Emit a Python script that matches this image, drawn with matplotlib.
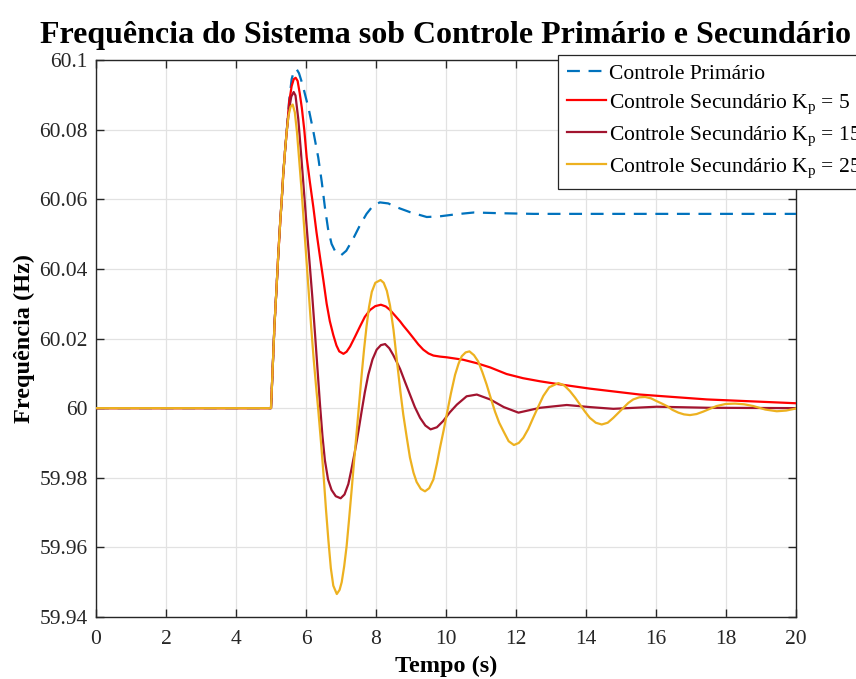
import matplotlib
matplotlib.use('Agg')
import matplotlib.pyplot as plt

plt.rcParams['font.family'] = ['Liberation Serif', 'DejaVu Serif']
plt.rcParams['mathtext.fontset'] = 'custom'
plt.rcParams['mathtext.rm'] = 'Liberation Serif'
plt.rcParams['mathtext.it'] = 'Liberation Serif'

# shared part: steady state and the step at t = 5 s
t_rise = [0.0, 5.0, 5.05, 5.10, 5.16, 5.21, 5.26, 5.31, 5.35, 5.40, 5.45]
f_rise = [60.0, 60.0, 60.012, 60.024, 60.0349, 60.0445, 60.0529, 60.0605, 60.0672, 60.0738, 60.0796]

# primary control only
t_prim = [5.52, 5.59, 5.66, 5.73, 5.80, 5.90, 6.00, 6.07, 6.20, 6.35, 6.45, 6.54, 6.63, 6.73,
          6.85, 7.00, 7.15, 7.35, 7.55, 7.73, 7.92, 8.11, 8.35, 8.59, 8.97, 9.45, 9.83, 10.3,
          10.8, 11.5, 12.5, 14.0, 20.0]
f_prim = [60.0885, 60.0945, 60.0970, 60.0974, 60.0962, 60.0930, 60.0890, 60.0863, 60.0800,
          60.0720, 60.0650, 60.0577, 60.0515, 60.0472, 60.0447, 60.0439, 60.0452, 60.0487,
          60.0527, 60.0558, 60.0582, 60.0591, 60.0588, 60.0577, 60.0563, 60.0549, 60.0551,
          60.0557, 60.0562, 60.0560, 60.0558, 60.0558, 60.0558]

# secondary control, Kp = 5
t_kp5 = [5.52, 5.59, 5.65, 5.705, 5.76, 5.82, 5.88, 5.95, 6.02, 6.11, 6.21, 6.30, 6.40, 6.50,
         6.59, 6.68, 6.78, 6.87, 6.95, 7.07, 7.16, 7.26, 7.40, 7.54, 7.68, 7.83, 7.98, 8.14,
         8.28, 8.40, 8.55, 8.69, 8.78, 8.92, 9.07, 9.21, 9.35, 9.50, 9.64, 9.83, 10.02, 10.49,
         10.88, 11.26, 11.73, 12.2, 12.69, 13.2, 14.11, 15.54, 17.45, 20.0]
f_kp5 = [60.0880, 60.0925, 60.0945, 60.0949, 60.0940, 60.0905, 60.0863, 60.0800, 60.0720,
         60.0650, 60.0577, 60.0505, 60.0434, 60.0365, 60.0300, 60.0250, 60.0210, 60.0180,
         60.0163, 60.0156, 60.0162, 60.0177, 60.0205, 60.0234, 60.0262, 60.0282, 60.0293,
         60.0297, 60.0292, 60.0282, 60.0265, 60.0249, 60.0237, 60.0220, 60.0201, 60.0183,
         60.0168, 60.0157, 60.0151, 60.0148, 60.0146, 60.0139, 60.0129, 60.0117, 60.0098,
         60.0086, 60.0077, 60.0069, 60.0056, 60.0039, 60.0025, 60.0014]

# secondary control, Kp = 15
t_kp15 = [5.52, 5.58, 5.648, 5.70, 5.78, 5.86, 5.94, 6.02, 6.10, 6.18, 6.26, 6.33, 6.40, 6.47,
          6.54, 6.63, 6.73, 6.85, 6.99, 7.10, 7.21, 7.30, 7.40, 7.50, 7.59, 7.68, 7.78, 7.90,
          8.02, 8.14, 8.26, 8.38, 8.49, 8.59, 8.69, 8.83, 8.97, 9.11, 9.26, 9.41, 9.56, 9.74,
          9.92, 10.11, 10.31, 10.59, 10.88, 11.26, 11.65, 12.07, 12.69, 13.45, 14.11, 14.78,
          16.02, 17.5, 20.0]
f_kp15 = [60.0860, 60.0895, 60.0908, 60.0898, 60.0830, 60.0730, 60.0625, 60.0520, 60.0420,
          60.0320, 60.0210, 60.0110, 60.0010, 59.9920, 59.9850, 59.9795, 59.9765, 59.9747,
          59.9741, 59.9752, 59.9782, 59.9825, 59.9877, 59.9935, 59.9991, 60.0045, 60.0096,
          60.0140, 60.0168, 60.0181, 60.0184, 60.0172, 60.0153, 60.0133, 60.0112, 60.0075,
          60.0039, 60.0003, 59.9972, 59.9950, 59.9939, 59.9945, 59.9963, 59.9988, 60.0010,
          60.0034, 60.0039, 60.0025, 60.0003, 59.9987, 60.0001, 60.0009, 60.0003, 59.9998,
          60.0004, 60.0001, 60.0000]

# secondary control, Kp = 25
t_kp25 = [5.50, 5.56, 5.62, 5.68, 5.74, 5.80, 5.87, 5.94, 6.01, 6.08, 6.15, 6.22, 6.29, 6.35,
          6.43, 6.50, 6.57, 6.64, 6.71, 6.78, 6.88, 6.96, 7.02, 7.09, 7.16, 7.23, 7.31, 7.38,
          7.45, 7.52, 7.59, 7.66, 7.73, 7.80, 7.88, 7.98, 8.13, 8.22, 8.31, 8.40, 8.50, 8.61,
          8.70, 8.78, 8.88, 8.97, 9.07, 9.16, 9.28, 9.40, 9.52, 9.64, 9.74, 9.83, 9.93, 10.02,
          10.14, 10.26, 10.36, 10.45, 10.56, 10.67, 10.80, 10.92, 11.04, 11.16, 11.26, 11.40,
          11.52, 11.64, 11.79, 11.94, 12.08, 12.21, 12.35, 12.49, 12.63, 12.78, 12.95, 13.21,
          13.38, 13.54, 13.69, 13.83, 13.97, 14.11, 14.28, 14.45, 14.62, 14.78, 14.93, 15.07,
          15.21, 15.35, 15.52, 15.69, 15.86, 16.02, 16.17, 16.31, 16.47, 16.64, 16.80, 16.97,
          17.16, 17.35, 17.54, 17.73, 17.99, 18.26, 18.52, 18.78, 19.12, 19.45, 19.72, 20.0]
f_kp25 = [60.0840, 60.0866, 60.0872, 60.0850, 60.0795, 60.0720, 60.0630, 60.0530, 60.0430,
          60.0330, 60.0230, 60.0140, 60.0060, 59.9995, 59.9900, 59.9810, 59.9710, 59.9620,
          59.9540, 59.9490, 59.9466, 59.9478, 59.9500, 59.9545, 59.9603, 59.9680, 59.9772,
          59.9855, 59.9934, 60.0015, 60.0096, 60.0170, 60.0235, 60.0290, 60.0334, 60.0360,
          60.0368, 60.0360, 60.0337, 60.0295, 60.0225, 60.0125, 60.0045, 59.9981, 59.9915,
          59.9858, 59.9815, 59.9788, 59.9768, 59.9761, 59.9770, 59.9795, 59.9840, 59.9887,
          59.9935, 59.9981, 60.0042, 60.0096, 60.0128, 60.0149, 60.0160, 60.0163, 60.0152,
          60.0134, 60.0103, 60.0068, 60.0035, 59.9990, 59.9958, 59.9934, 59.9905, 59.9894,
          59.9900, 59.9915, 59.9940, 59.9972, 60.0003, 60.0035, 60.0060, 60.0072, 60.0065,
          60.0049, 60.0030, 60.0010, 59.9990, 59.9972, 59.9958, 59.9953, 59.9958, 59.9972,
          59.9987, 60.0001, 60.0015, 60.0025, 60.0031, 60.0032, 60.0028, 60.0020, 60.0013,
          60.0006, 59.9995, 59.9987, 59.9982, 59.9980, 59.9983, 59.9990, 59.9998, 60.0006,
          60.0012, 60.0013, 60.0011, 60.0006, 59.9996, 59.9991, 59.9993, 59.9999]

labels = ['Controle Primário',
          r'Controle Secundário K$_{\mathrm{p}}$ = 5',
          r'Controle Secundário K$_{\mathrm{p}}$ = 15',
          r'Controle Secundário K$_{\mathrm{p}}$ = 25']
colors = ['#0072BD', '#FF0000', '#A2142F', '#EDB120']

x_ticks = [0, 2, 4, 6, 8, 10, 12, 14, 16, 18, 20]
y_ticks = [59.94, 59.96, 59.98, 60.0, 60.02, 60.04, 60.06, 60.08, 60.1]
y_tick_labels = ['59.94', '59.96', '59.98', '60', '60.02', '60.04', '60.06', '60.08', '60.1']

fig = plt.figure(figsize=(8.56, 6.79), dpi=100)
ax = fig.add_axes([96 / 856, 1 - 617 / 679, 700 / 856, 557 / 679])

series = [(t_prim, f_prim), (t_kp5, f_kp5), (t_kp15, f_kp15), (t_kp25, f_kp25)]
for i, (t, f) in enumerate(series):
    if i == 0:
        ax.plot(t_rise + t, f_rise + f, '--', color=colors[i], lw=1.6, label=labels[i],
                dashes=(5.8, 3.9), zorder=3)
    else:
        ax.plot(t_rise + t, f_rise + f, '-', color=colors[i], lw=1.6, label=labels[i], zorder=3)

ax.set_xlim(0, 20)
ax.set_ylim(59.94, 60.1)
ax.set_xticks(x_ticks)
ax.set_xticklabels([str(v) for v in x_ticks])
ax.set_yticks(y_ticks)
ax.set_yticklabels(y_tick_labels)
ax.tick_params(direction='in', length=6, width=1, top=True, right=True,
               labelsize=15.5, colors='#262626', pad=6)
ax.tick_params(axis='x', pad=9)
for s in ax.spines.values():
    s.set_color('#262626')
    s.set_linewidth(1)
ax.grid(True, color='#e2e2e2', lw=0.9)
ax.set_axisbelow(True)

ax.set_title('Frequência do Sistema sob Controle Primário e Secundário',
             fontsize=23, fontweight='bold', pad=12)
ax.set_xlabel('Tempo (s)', fontsize=17.5, fontweight='bold', labelpad=5)
ax.set_ylabel('Frequência (Hz)', fontsize=17.5, fontweight='bold', labelpad=3)

leg = ax.legend(loc='upper left', bbox_to_anchor=(558 / 856, 1 - 55 / 679),
                bbox_transform=fig.transFigure, fontsize=15.5, frameon=True,
                fancybox=False, edgecolor='#262626', framealpha=1, borderaxespad=0,
                handlelength=1.85, handletextpad=0.12, labelspacing=0.4, borderpad=0.4)
leg.get_frame().set_linewidth(0.9)

fig.savefig('out.png', dpi=100)
